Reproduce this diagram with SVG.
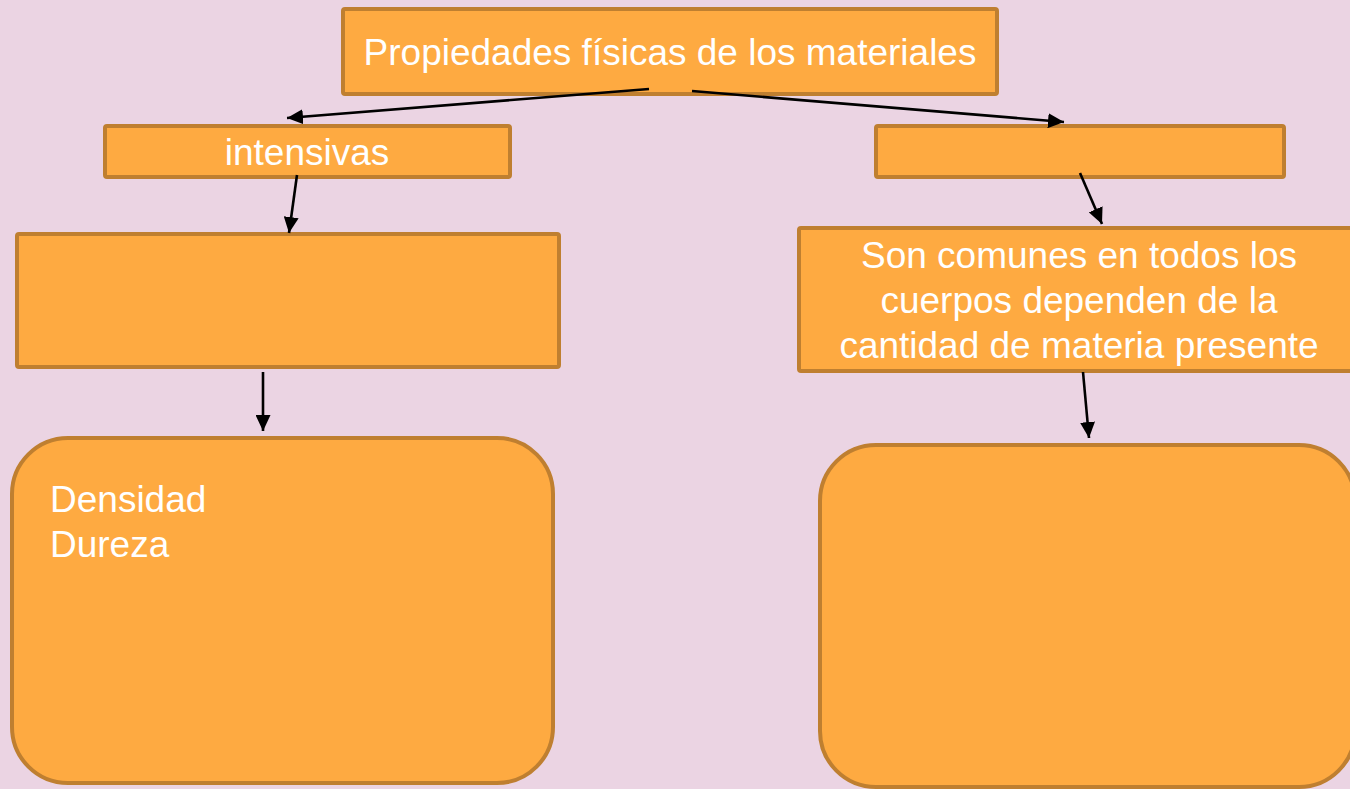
<svg xmlns="http://www.w3.org/2000/svg" width="1350" height="789" viewBox="0 0 1350 789">
  <style>
    .box { fill: #FEAA41; stroke: #BF7F30; stroke-width: 4; }
    .t { font-family: "Liberation Sans", Arial, sans-serif; font-size: 37px; fill: #FFFFFF; }
    .c { text-anchor: middle; }
    .conn { stroke: #000000; stroke-width: 2.6; fill: none; marker-end: url(#ah); }
  </style>
  <defs>
    <marker id="ah" viewBox="0 0 16 15" refX="16" refY="7.5" markerWidth="16" markerHeight="15" markerUnits="userSpaceOnUse" orient="auto">
      <path d="M0,0 L16,7.5 L0,15 z" fill="#000000"/>
    </marker>
  </defs>
  <rect x="0" y="0" width="1350" height="789" fill="#EBD4E3"/>

  <g id="n-root">
    <rect class="box" x="343" y="9" width="654" height="85" rx="2"/>
    <text class="t c" x="670" y="65">Propiedades físicas de los materiales</text>
  </g>
  <g id="n-intensivas">
    <rect class="box" x="105" y="126" width="405" height="51" rx="2"/>
    <text class="t c" x="307" y="165">intensivas</text>
  </g>
  <g id="n-extensivas">
    <rect class="box" x="876" y="126" width="408" height="51" rx="2"/>
  </g>
  <g id="n-left-mid">
    <rect class="box" x="17" y="234" width="542" height="133" rx="2"/>
  </g>
  <g id="n-right-mid">
    <rect class="box" x="799" y="228" width="570" height="143" rx="2"/>
    <text class="t c" x="1079" y="268">Son comunes en todos los</text>
    <text class="t c" x="1079" y="313">cuerpos dependen de la</text>
    <text class="t c" x="1079" y="358">cantidad de materia presente</text>
  </g>
  <g id="n-left-bottom">
    <rect class="box" x="12" y="438" width="541" height="345" rx="56"/>
    <text class="t" x="50" y="512">Densidad</text>
    <text class="t" x="50" y="557">Dureza</text>
  </g>
  <g id="n-right-bottom">
    <rect class="box" x="820" y="445" width="535" height="342" rx="56"/>
  </g>

  <g id="connectors">
    <line class="conn" x1="649" y1="89" x2="287" y2="118"/>
    <line class="conn" x1="692" y1="91" x2="1064" y2="122"/>
    <line class="conn" x1="297" y1="175" x2="289" y2="233"/>
    <line class="conn" x1="1080" y1="173" x2="1102" y2="224"/>
    <line class="conn" x1="263" y1="372" x2="263" y2="431"/>
    <line class="conn" x1="1083" y1="372" x2="1089" y2="438"/>
  </g>
</svg>
